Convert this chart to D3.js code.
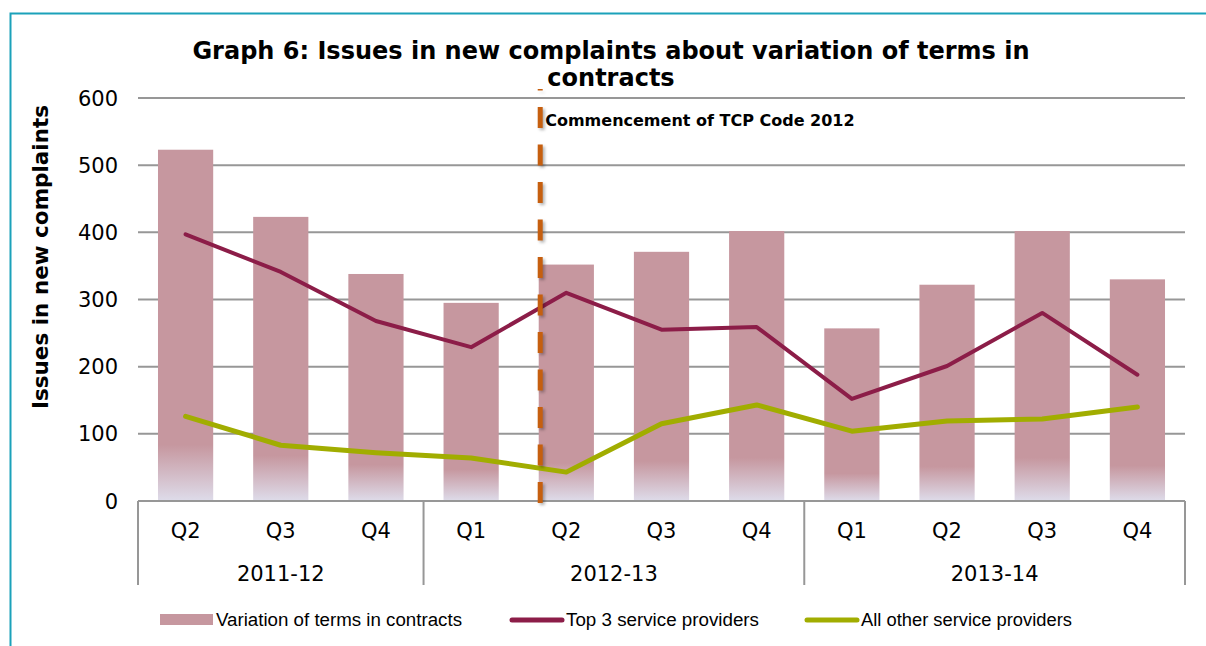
<!DOCTYPE html>
<html><head><meta charset="utf-8">
<script src="https://cdn.jsdelivr.net/npm/d3@7"></script>
<style>body{margin:0;background:#fff}svg{display:block}</style>
</head><body>
<script>
const quarters = ["Q2","Q3","Q4","Q1","Q2","Q3","Q4","Q1","Q2","Q3","Q4"];
const years = ["2011-12","2011-12","2011-12","2012-13","2012-13","2012-13","2012-13","2013-14","2013-14","2013-14","2013-14"];
const yearLabels = ["2011-12","2012-13","2013-14"];
const variation = [523,423,338,295,352,371,402,257,322,402,330];
const top3 = [397,341,268,229,310,255,259,152,201,280,188];
const others = [126,83,72,64,43,115,143,104,119,122,140];
const yTicks = [0,100,200,300,400,500,600];
const seriesNames = ["Variation of terms in contracts","Top 3 service providers","All other service providers"];

const W=1206,H=646;
const svg=d3.select("body").append("svg").attr("width",W).attr("height",H);
const font="DejaVu Sans, Verdana, sans-serif";
const idx=d3.range(quarters.length);
const x=d3.scaleBand().domain(idx).range([138,1185]).paddingInner(0.42).paddingOuter(0.21);
const y=d3.scaleLinear().domain([0,600]).range([501,98]);
const step=x.step();
const cx=i=>x(i)+x.bandwidth()/2;

// border
svg.append("path").attr("d","M10.5,646 V13.5 H1206").attr("fill","none").attr("stroke","#1BA1BA").attr("stroke-width",2);

const defs=svg.append("defs");
const g=defs.append("linearGradient").attr("id","barg").attr("x1",0).attr("y1",0).attr("x2",0).attr("y2",1);
g.append("stop").attr("offset","0.84").attr("stop-color","#C6979F");
g.append("stop").attr("offset","1").attr("stop-color","#DEDCEA");
const sh=defs.append("filter").attr("id","sh").attr("filterUnits","userSpaceOnUse")
 .attr("x",520).attr("y",80).attr("width",40).attr("height",440);
sh.append("feGaussianBlur").attr("stdDeviation",1.5);

// gridlines
svg.append("g").selectAll("line").data(yTicks.filter(d=>d>0)).join("line")
 .attr("x1",138).attr("x2",1185).attr("y1",d=>y(d)).attr("y2",d=>y(d))
 .attr("stroke","#979797").attr("stroke-width",2);
svg.append("g").selectAll("text").data(yTicks).join("text")
 .attr("x",118).attr("y",d=>y(d)+7.5).attr("text-anchor","end")
 .attr("font-family",font).attr("font-size",21).text(d=>d);

// bars
svg.append("g").selectAll("rect").data(variation).join("rect")
 .attr("x",(d,i)=>x(i)).attr("width",x.bandwidth())
 .attr("y",d=>y(d)).attr("height",d=>y(0)-y(d)).attr("fill","url(#barg)");

// axis
svg.append("line").attr("x1",138).attr("x2",1185).attr("y1",501).attr("y2",501).attr("stroke","#979797").attr("stroke-width",2);
const seps=[0];
years.forEach((yy,i)=>{if(i>0&&yy!==years[i-1])seps.push(i);});
seps.push(years.length);
svg.append("g").selectAll("line").data(seps).join("line")
 .attr("x1",d=>138+step*d).attr("x2",d=>138+step*d).attr("y1",501).attr("y2",585)
 .attr("stroke","#979797").attr("stroke-width",2);
svg.append("g").selectAll("text").data(quarters).join("text")
 .attr("x",(d,i)=>cx(i)).attr("y",538).attr("text-anchor","middle")
 .attr("font-family",font).attr("font-size",21).text(d=>d);
svg.append("g").selectAll("text").data(yearLabels).join("text")
 .attr("x",(d,k)=>138+step*(seps[k]+seps[k+1])/2).attr("y",581).attr("text-anchor","middle")
 .attr("font-family",font).attr("font-size",21).text(d=>d);

// lines
const line=d3.line().x((d,i)=>cx(i)).y(d=>y(d));
svg.append("path").datum(top3).attr("d",line).attr("fill","none").attr("stroke","#8C1D48").attr("stroke-width",4).attr("stroke-linejoin","round").attr("stroke-linecap","round");
svg.append("path").datum(others).attr("d",line).attr("fill","none").attr("stroke","#A1AD00").attr("stroke-width",5).attr("stroke-linejoin","round").attr("stroke-linecap","round");

// marker line
const mx=x(4)+1.5;
const dash="21,16.5";
svg.append("line").attr("x1",mx+2).attr("x2",mx+2).attr("y1",505).attr("y2",92)
 .attr("stroke","#000").attr("stroke-opacity",0.3).attr("stroke-width",5).attr("stroke-dasharray",dash).attr("filter","url(#sh)");
svg.append("line").attr("x1",mx).attr("x2",mx).attr("y1",503).attr("y2",89)
 .attr("stroke","#C65F0F").attr("stroke-width",5).attr("stroke-dasharray",dash);
svg.append("text").attr("x",mx+5).attr("y",126).attr("font-family",font).attr("font-weight","bold").attr("font-size",16).text("Commencement of TCP Code 2012");

// title
const t=svg.append("text").attr("text-anchor","middle").attr("font-family",font).attr("font-weight","bold").attr("font-size",24);
t.append("tspan").attr("x",611).attr("y",59).text("Graph 6: Issues in new complaints about variation of terms in");
t.append("tspan").attr("x",611).attr("y",86).text("contracts");

// y label
svg.append("text").attr("transform","translate(48,257) rotate(-90)").attr("text-anchor","middle")
 .attr("font-family",font).attr("font-weight","bold").attr("font-size",21.5).text("Issues in new complaints");

// legend
const lf="Liberation Sans Narrow, Arial Narrow, Liberation Sans, sans-serif";
const leg=[{x:160,type:"rect",c:"#C6979F",w:246},{x:510,type:"line",c:"#8C1D48",w:193},{x:805,type:"line",c:"#A1AD00",w:211}];
leg.forEach((l,k)=>{
  if(l.type==="rect") svg.append("rect").attr("x",l.x).attr("y",614).attr("width",53).attr("height",11).attr("fill",l.c);
  else svg.append("line").attr("x1",l.x+2).attr("x2",l.x+52).attr("y1",620).attr("y2",620).attr("stroke",l.c).attr("stroke-width",5).attr("stroke-linecap","round");
  svg.append("text").attr("x",l.x+56).attr("y",626).attr("font-family",lf).attr("font-size",18)
   .attr("textLength",l.w).attr("lengthAdjust","spacingAndGlyphs").text(seriesNames[k]);
});
</script>
</body></html>
